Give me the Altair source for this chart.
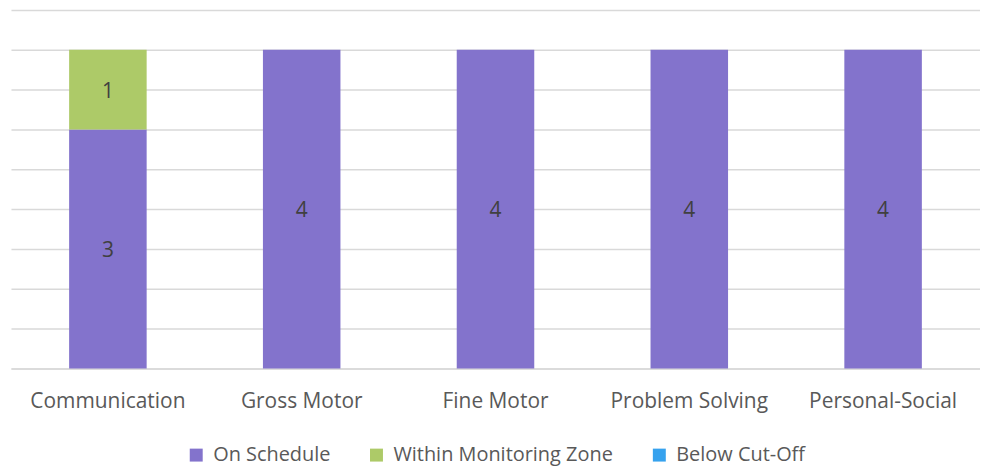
import altair as alt
import pandas as pd

categories = ["Communication", "Gross Motor", "Fine Motor", "Problem Solving", "Personal-Social"]
series = ["On Schedule", "Within Monitoring Zone", "Below Cut-Off"]
on_schedule = [3, 4, 4, 4, 4]
monitoring = [1, 0, 0, 0, 0]
below_cutoff = [0, 0, 0, 0, 0]
colors = ["#8373CC", "#ADCA68", "#36A2EE"]
grid_values = [0, 0.5, 1, 1.5, 2, 2.5, 3, 3.5, 4, 4.5]

rows = []
for i, c in enumerate(categories):
    for j, (s, vals) in enumerate(zip(series, [on_schedule, monitoring, below_cutoff])):
        rows.append({"category": c, "series": s, "order": j, "value": vals[i]})
df = pd.DataFrame(rows)

FONT = "Open Sans"

x_axis = alt.Axis(labelAngle=0, labelFontSize=21, labelColor="#595959", labelFont=FONT,
                  domainColor="#d9d9d9", domainWidth=1.5, ticks=False, labelPadding=22)
y_axis = alt.Axis(values=grid_values, labels=False, ticks=False, domain=False,
                  gridColor="#d9d9d9", gridWidth=1.5)
x_scale = alt.Scale(paddingInner=0.6, paddingOuter=0.3)
y_scale = alt.Scale(domain=[0, 4.5], nice=False)

bars = alt.Chart(df).mark_bar().encode(
    x=alt.X("category:N", sort=categories, title=None, scale=x_scale, axis=x_axis),
    y=alt.Y("value:Q", stack="zero", title=None, scale=y_scale, axis=y_axis),
    color=alt.Color("series:N", sort=series,
                    scale=alt.Scale(domain=series, range=colors),
                    legend=alt.Legend(title=None, orient="none", direction="horizontal",
                                      legendX=176, legendY=437, symbolType="square", symbolSize=169,
                                      symbolStrokeWidth=0, labelFontSize=20, labelColor="#595959",
                                      labelFont=FONT, labelOffset=7, columnPadding=36, padding=0,
                                      labelLimit=500)),
    order=alt.Order("order:Q", sort="ascending"),
)

labels = alt.Chart(df).transform_filter(alt.datum.value > 0).mark_text(
    fontSize=21, color="#404040", font=FONT, dy=2
).encode(
    x=alt.X("category:N", sort=categories, title=None, scale=x_scale, axis=x_axis),
    y=alt.Y("value:Q", stack="zero", bandPosition=0.5, title=None, scale=y_scale, axis=y_axis),
    text=alt.Text("value:Q"),
    order=alt.Order("order:Q", sort="ascending"),
    detail="series:N",
)

chart = alt.layer(bars, labels).properties(
    width=973, height=360,
    autosize=alt.AutoSizeParams(type="none"),
    padding={"left": 3, "top": 1, "right": 0, "bottom": 97},
).configure_view(stroke=None)

chart.save("out.html", embed_options={"renderer": "svg", "actions": False})
